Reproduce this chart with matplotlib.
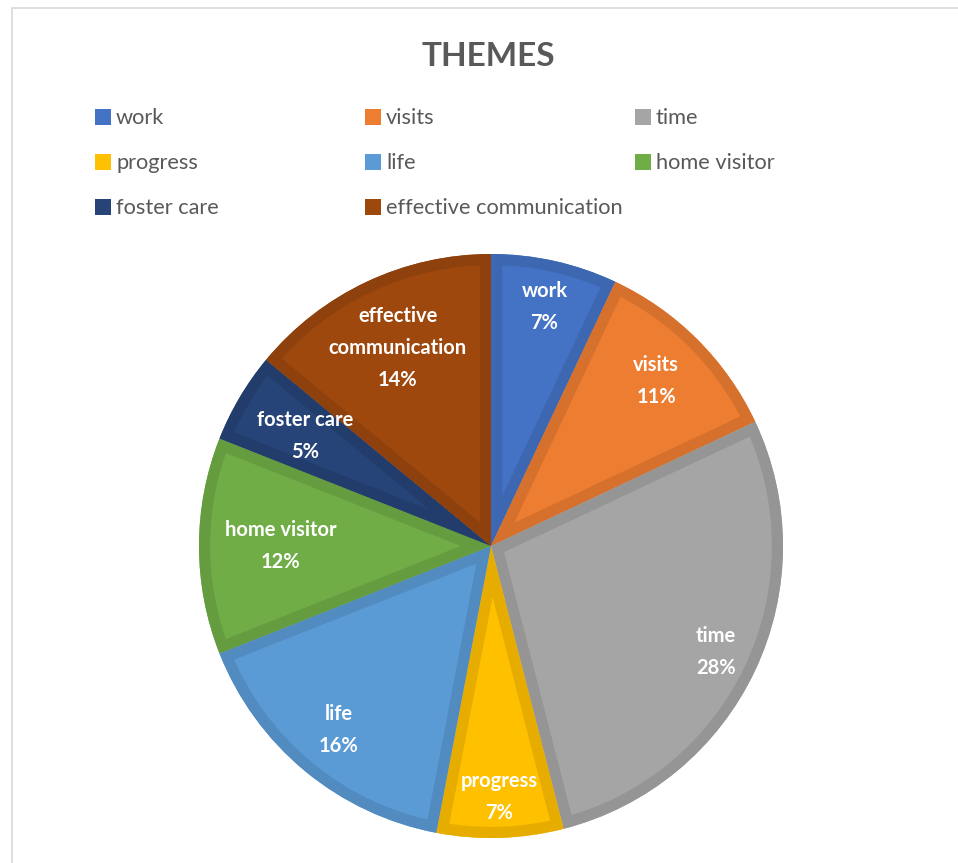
import numpy as np
import matplotlib.pyplot as plt
from matplotlib.colors import to_rgb
from matplotlib.patches import Rectangle, Wedge


categories = ["work", "visits", "time", "progress", "life",
              "home visitor", "foster care", "effective communication"]
percent = [7, 11, 28, 7, 16, 12, 5, 14]
colors = ["#4472C4", "#ED7D31", "#A5A5A5", "#FFC000",
          "#5B9BD5", "#70AD47", "#264478", "#9E480E"]
# label radius as a fraction of the pie radius (Excel "best fit")
label_radius = [0.84, 0.80, 0.85, 0.86, 0.82, 0.72, 0.74, 0.75]
# label text lines inside each slice
label_names = ["work", "visits", "time", "progress", "life",
               "home visitor", "foster care", "effective\ncommunication"]

TEXT_GREY = "#595959"
FONT = ["Lato", "DejaVu Sans"]

W, H = 958, 863


def darker(color, f=0.9):
    r, g, b = to_rgb(color)
    return (r * f, g * f, b * f)


fig = plt.figure(figsize=(W / 100, H / 100), dpi=100)

# chart frame (only top / left edges are visible in the crop)
fig.patches.append(Rectangle((12 / W, -0.1), 1.2, 1 - 8 / H + 0.1,
                             transform=fig.transFigure, fill=False,
                             edgecolor="#D9D9D9", linewidth=1.2))

fig.text(488 / W, 1 - 56 / H, "THEMES", ha="center", va="center",
         fontsize=24, fontweight="bold", color=TEXT_GREY, family=FONT)

# legend, filled row by row
col_x = [95, 365, 635]
row_y = [117, 162, 207]
for i, (name, col) in enumerate(zip(categories, colors)):
    x = col_x[i % 3]
    y = row_y[i // 3]
    fig.patches.append(Rectangle((x / W, 1 - (y + 8) / H), 16 / W, 16 / H,
                                 transform=fig.transFigure,
                                 facecolor=col, edgecolor="none"))
    fig.text((x + 21) / W, 1 - (y + 1) / H, name, ha="left", va="center",
             fontsize=15.7, color=TEXT_GREY, family=FONT)

cx, cy, r = 491, 546, 292
ax = fig.add_axes([(cx - r) / W, (H - cy - r) / H, 2 * r / W, 2 * r / H])
wedges, _ = ax.pie(percent, colors=colors, startangle=90, counterclock=False,
                   radius=1.0, wedgeprops=dict(linewidth=0))
ax.set_xlim(-1, 1)
ax.set_ylim(-1, 1)
ax.set_aspect("equal")
ax.axis("off")

# darker inner border on each slice, clipped to the slice itself
for w, col in zip(wedges, colors):
    border = Wedge(w.center, w.r, w.theta1, w.theta2, facecolor="none",
                   edgecolor=darker(col), linewidth=16, joinstyle="round")
    ax.add_patch(border)
    border.set_clip_path(w)

for w, name, pct, lr in zip(wedges, label_names, percent, label_radius):
    mid = np.deg2rad((w.theta1 + w.theta2) / 2)
    ax.text(lr * np.cos(mid), lr * np.sin(mid), f"{name}\n{pct}%",
            ha="center", va="center", color="white", fontsize=14.5,
            fontweight="bold", family=FONT, linespacing=1.75)

fig.savefig("out.png", dpi=100)
